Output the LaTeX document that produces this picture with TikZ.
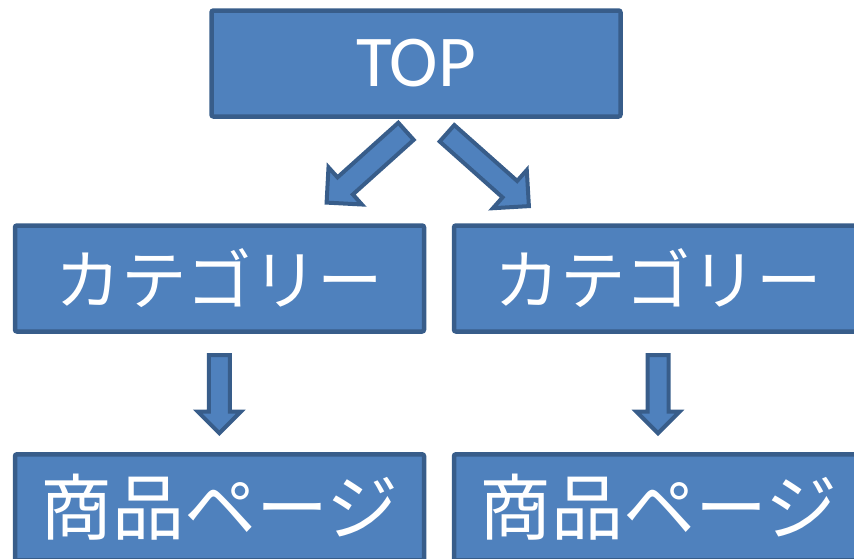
\documentclass[tikz,border=0pt]{standalone}
\usepackage{fontspec}
\setmainfont{Carlito}
\newfontfamily\jpfont{Noto Sans CJK JP}
\usetikzlibrary{calc}
\definecolor{boxfill}{HTML}{4F81BD}
\definecolor{boxline}{HTML}{385D8A}
\tikzset{
  pagebox/.style={draw=boxline, fill=boxfill, line width=4.5pt, rounded corners=2pt,
    minimum width=409pt, minimum height=106pt, inner sep=0pt, text=white},
  toptext/.style={font=\fontsize{73}{73}\selectfont},
  cattext/.style={font=\jpfont\fontsize{65.5}{65.5}\selectfont},
  itemtext/.style={font=\jpfont\fontsize{72}{72}\selectfont},
  barrow/.style={draw=boxline, fill=boxfill, line width=4pt, line join=miter}
}
% block arrow: tail, tip, shaft half width, head half width, head length
\newcommand\blockarr[5]{%
  \coordinate (#1-b) at ($(#2)!#5!(#1)$);
  \draw[barrow] ($(#1)!#3!90:(#2)$) -- ($(#1-b)!#3!90:(#2)$) -- ($(#1-b)!#4!90:(#2)$)
    -- (#2) -- ($(#1-b)!#4!-90:(#2)$) -- ($(#1-b)!#3!-90:(#2)$) -- ($(#1)!#3!-90:(#2)$) -- cycle;
}
\begin{document}
\begin{tikzpicture}[x=1pt,y=-1pt]
\useasboundingbox (0,0) rectangle (854,558);
\clip (0,0) rectangle (854,558);
\node[pagebox, toptext] (top) at (416,63.5) {TOP};
\node[pagebox, cattext] (catL) at (219.5,278.5) {カテゴリー};
\node[pagebox, cattext] (catR) at (658.5,278.5) {カテゴリー};
\node[pagebox, itemtext] (itemL) at (219.5,507.3) {商品ページ};
\node[pagebox, itemtext] (itemR) at (658.5,507.3) {商品ページ};
% diagonal arrows
\coordinate (dlT) at (406,131.3);
\coordinate (dlH) at (326.6,202.6);
\coordinate (drT) at (447,133.3);
\coordinate (drH) at (528.9,206.1);
\blockarr{dlT}{dlH}{11.5pt}{25pt}{25pt}
\blockarr{drT}{drH}{11pt}{25.5pt}{25.5pt}
% vertical arrows
\coordinate (vlT) at (219.3,355);
\coordinate (vlH) at (219.3,433.2);
\coordinate (vrT) at (658,355);
\coordinate (vrH) at (658,433.2);
\blockarr{vlT}{vlH}{10.5pt}{21.5pt}{21.5pt}
\blockarr{vrT}{vrH}{10.5pt}{21.5pt}{21.5pt}
\end{tikzpicture}
\end{document}
